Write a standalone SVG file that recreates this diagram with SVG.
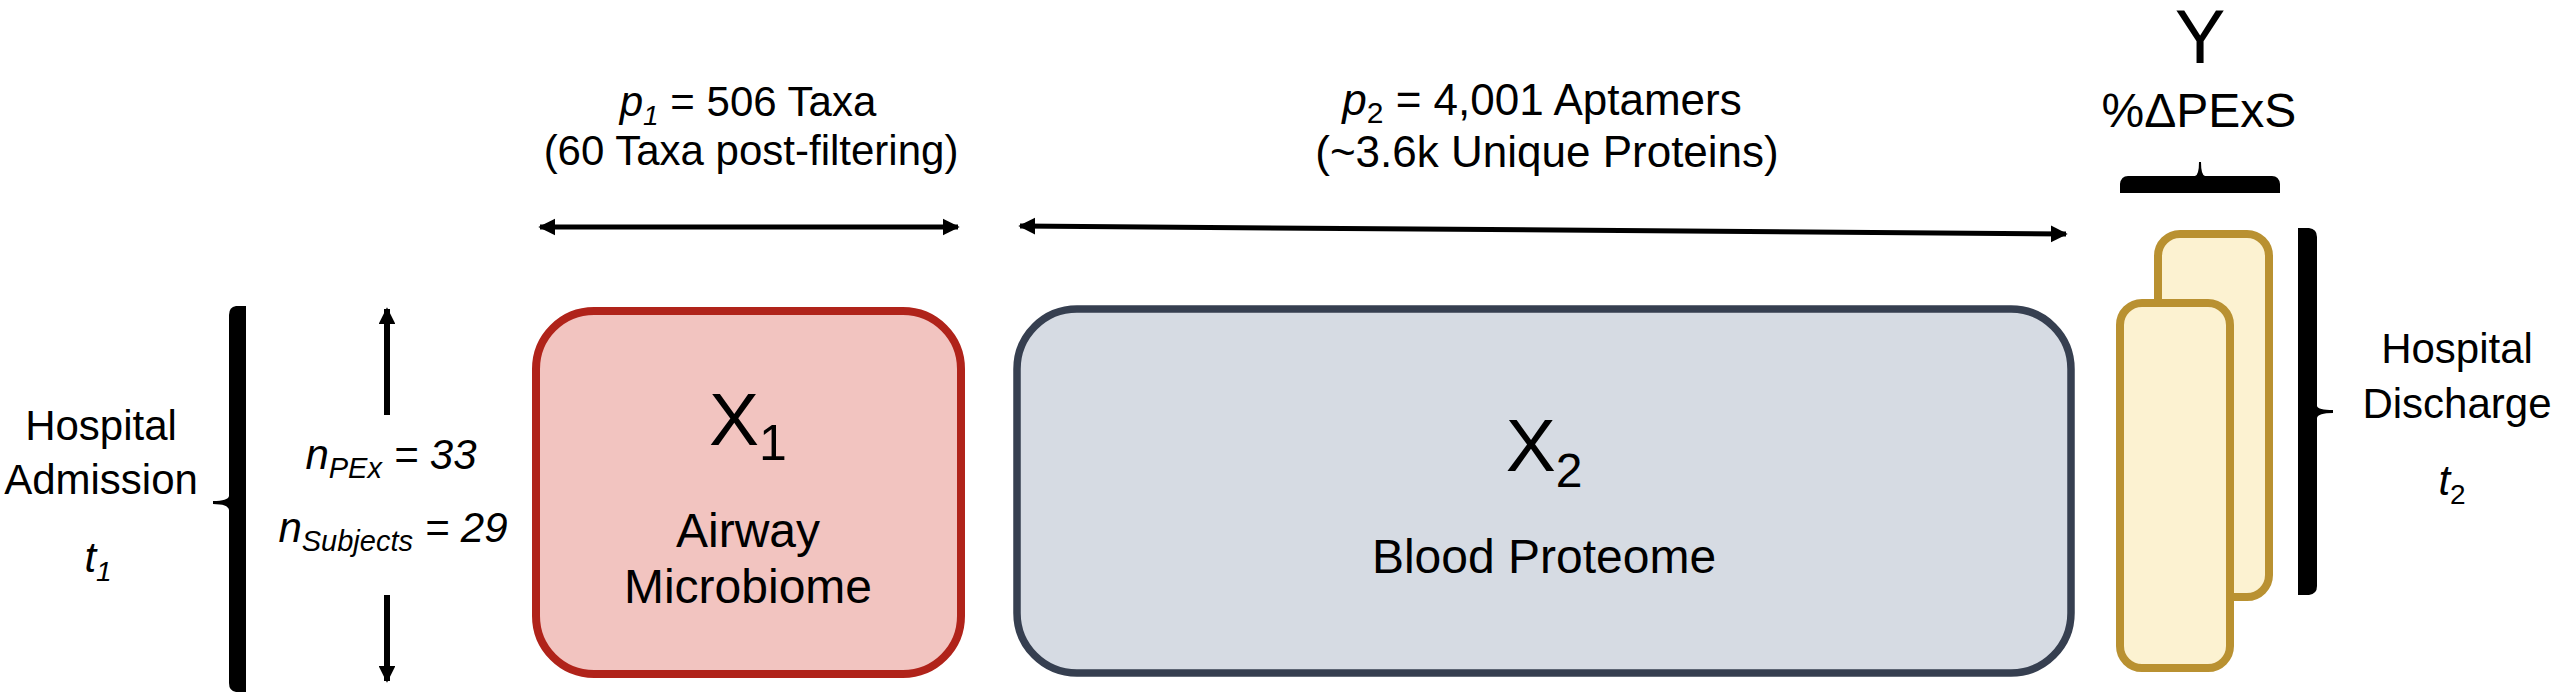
<svg xmlns="http://www.w3.org/2000/svg" width="2558" height="700" viewBox="0 0 2558 700">
<style>
text{font-family:"Liberation Sans",Arial,Helvetica,sans-serif;fill:#000;text-anchor:middle}
.lbl{font-size:42px}
.lbl2{font-size:44px}
.it{font-style:italic}
.big{font-size:76px}
.line{stroke:#000;fill:none}
.brace{fill:#000}
</style>
<defs>
<marker id="ah" viewBox="0 0 10 10" refX="9" refY="5" markerWidth="3.4" markerHeight="3.6" orient="auto-start-reverse" markerUnits="strokeWidth">
<path d="M0,0 L10,5 L0,10 Z" fill="#000"/>
</marker>
<marker id="ahv" viewBox="0 0 10 10" refX="9" refY="5" markerWidth="2.8" markerHeight="2.8" orient="auto" markerUnits="strokeWidth">
<path d="M0,0 L10,5 L0,10 Z" fill="#000"/>
</marker>
</defs>

<g id="admission">
<text class="lbl" x="101" y="440">Hospital</text>
<text class="lbl" x="101" y="494">Admission</text>
<text class="lbl it" x="98" y="572">t<tspan font-size="28" dy="9">1</tspan></text>
<path class="brace" d="M246,306 L236,306 Q229,307 229,315 L229,496 Q228,501 213,501 L213,504 Q228,504 229,510 L229,683 Q229,691 236,692 L246,692 Z"/>
</g>

<g id="sample-size">
<text class="lbl it" x="391" y="469">n<tspan font-size="29" dy="9">PEx</tspan><tspan dy="-9"> = 33</tspan></text>
<text class="lbl it" x="393" y="542">n<tspan font-size="29" dy="9">Subjects</tspan><tspan dy="-9"> = 29</tspan></text>
</g>

<g id="X1">
<rect x="536" y="311" width="425" height="363" rx="58" ry="58" fill="#F2C4C0" stroke="#B0231A" stroke-width="8"/>
<text x="748" y="445"><tspan font-size="75">X</tspan><tspan font-size="50" dy="15">1</tspan></text>
<text x="748" y="547" font-size="48">Airway</text>
<text x="748" y="603" font-size="48">Microbiome</text>
</g>

<g id="X2">
<rect x="1017" y="309" width="1054" height="364" rx="60" ry="60" fill="#D6DBE3" stroke="#363F50" stroke-width="7.5"/>
<text x="1544" y="471"><tspan font-size="75">X</tspan><tspan font-size="48" dy="16">2</tspan></text>
<text x="1544" y="573" font-size="48">Blood Proteome</text>
</g>

<g id="Y">
<rect x="2158" y="234" width="111" height="363" rx="22" ry="22" fill="#FCF2D1" stroke="#B99131" stroke-width="8"/>
<rect x="2120" y="303" width="110" height="365" rx="22" ry="22" fill="#FCF2D1" stroke="#B99131" stroke-width="8"/>
<text class="big" x="2200" y="63">Y</text>
<text x="2199" y="127" font-size="48">%ΔPExS</text>
<path class="brace" d="M2120,193 L2120,184 Q2121,176 2128,176 L2195,176 Q2199,175 2199,162 L2201,162 Q2201,175 2205,176 L2272,176 Q2279,176 2280,184 L2280,193 Z"/>
</g>

<g id="discharge">
<path class="brace" d="M2298,228 L2309,228 Q2317,229 2317,237 L2317,406 Q2318,410 2333,410 L2333,413 Q2318,413 2317,418 L2317,586 Q2317,594 2309,595 L2298,595 Z"/>
<text class="lbl" x="2457" y="363">Hospital</text>
<text class="lbl" x="2457" y="418">Discharge</text>
<text class="lbl" x="2452" y="495"><tspan font-style="italic">t</tspan><tspan font-size="28" dy="9">2</tspan></text>
</g>

<g id="p1-label">
<text class="lbl" x="748" y="116"><tspan font-style="italic">p</tspan><tspan font-style="italic" font-size="28" dy="9">1</tspan><tspan dy="-9"> = 506 Taxa</tspan></text>
<text class="lbl" x="751" y="165">(60 Taxa post-filtering)</text>
</g>

<g id="p2-label">
<text class="lbl2" x="1542" y="115"><tspan font-style="italic">p</tspan><tspan font-size="30" dy="8">2</tspan><tspan dy="-8"> = 4,001 Aptamers</tspan></text>
<text class="lbl2" x="1547" y="167">(~3.6k Unique Proteins)</text>
</g>

<g id="connectors">
<line class="line" x1="540" y1="227" x2="958" y2="227" stroke-width="5" marker-start="url(#ah)" marker-end="url(#ah)"/>
<line class="line" x1="1020" y1="226" x2="2066" y2="234" stroke-width="5" marker-start="url(#ah)" marker-end="url(#ah)"/>
<line class="line" x1="387" y1="415" x2="387" y2="309" stroke-width="6" marker-end="url(#ahv)"/>
<line class="line" x1="387" y1="595" x2="387" y2="681" stroke-width="6" marker-end="url(#ahv)"/>
</g>
</svg>
